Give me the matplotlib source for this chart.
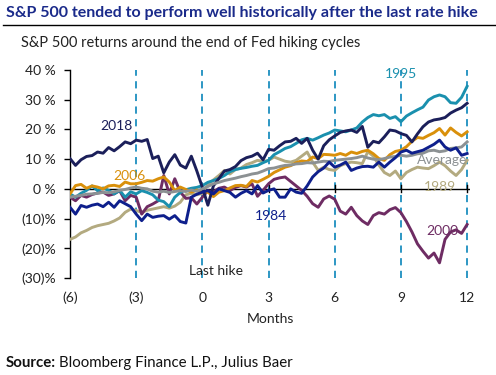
import numpy as np
import matplotlib
matplotlib.use("Agg")
import matplotlib.pyplot as plt
from matplotlib.lines import Line2D

plt.rcParams['font.family'] = ['Lato', 'DejaVu Sans']

months = np.arange(-6, 12.001, 0.25)

s2018 = [10.2, 7.9, 9.8, 10.9, 11.2, 12.4, 12.0, 13.9, 12.8, 14.2, 15.8, 15.2, 16.4, 16.0, 16.6, 10.2,
         11.0, 5.4, 9.0, 11.5, 8.0, 7.0, 11.0, 6.0, 0.5, -5.5, 1.0, 3.5, 6.0, 6.5, 7.5, 9.5, 10.5, 11.0,
         12.0, 9.8, 13.3, 13.0, 14.5, 15.8, 16.0, 17.0, 15.3, 17.0, 13.0, 10.0, 14.5, 16.5, 17.8, 19.0,
         19.5, 19.8, 19.0, 21.0, 14.0, 16.0, 15.5, 17.5, 19.8, 19.5, 18.6, 18.0, 15.8, 18.5, 20.9, 22.5,
         23.2, 23.5, 24.0, 25.5, 26.5, 27.3, 28.8]
s1995 = [-1.7, -2.8, -1.5, -0.5, 1.0, -0.6, 0.3, -0.5, -1.7, -0.5, -2.8, -1.0, -1.7, -0.6, -1.2, -2.0,
         -3.8, -4.3, -6.0, -2.8, -1.2, -0.3, 0.2, 0.5, 1.1, 2.2, 2.8, 3.5, 4.5, 5.8, 6.5, 6.9, 7.2, 7.6,
         7.9, 8.8, 9.6, 11.5, 12.5, 13.6, 14.2, 15.3, 16.5, 17.0, 16.4, 17.2, 18.1, 18.8, 19.8, 19.5,
         19.2, 19.8, 20.5, 22.5, 24.0, 25.0, 24.6, 25.0, 23.7, 24.3, 22.6, 24.5, 25.6, 26.6, 27.5, 29.9,
         31.0, 31.6, 31.0, 29.0, 28.8, 30.8, 34.5]
s2006 = [-1.7, 1.1, 1.5, 0.2, 1.0, 0.6, 0.0, 1.0, 1.2, 0.8, 2.3, 1.7, 1.7, 2.2, 2.8, 2.6, 3.4, 4.0,
         2.3, -0.6, 0.6, -0.2, -1.1, -0.4, -1.0, -1.1, -2.6, -1.1, -0.6, 0.3, 1.1, 1.2, 0.8, 2.8, 2.3,
         3.2, 4.2, 5.5, 6.4, 7.3, 7.8, 8.8, 9.4, 9.2, 10.7, 10.2, 11.6, 11.5, 11.3, 11.9, 11.3, 12.4,
         11.9, 12.6, 13.0, 11.8, 10.2, 9.6, 11.5, 12.6, 13.0, 14.2, 16.0, 17.3, 17.0, 18.0, 18.9, 20.3,
         18.1, 20.5, 19.0, 17.8, 19.2]
s1989 = [-17.0, -16.2, -14.8, -14.0, -13.0, -12.4, -12.0, -11.6, -10.8, -9.8, -7.9, -6.8, -7.3, -7.9,
         -7.2, -6.8, -6.4, -6.0, -6.5, -5.8, -4.5, -2.0, -1.5, -2.0, -1.5, 1.5, 3.0, 4.5, 6.2, 5.0, 6.5,
         7.0, 8.2, 8.8, 9.6, 9.2, 9.6, 10.7, 10.0, 9.3, 9.0, 9.6, 11.0, 12.4, 9.0, 6.2, 7.3, 6.5, 6.2,
         7.8, 8.5, 9.0, 8.8, 8.5, 12.5, 11.0, 8.0, 5.5, 4.5, 6.0, 3.4, 5.5, 6.5, 7.3, 7.0, 6.8, 7.8,
         9.0, 7.8, 6.0, 4.5, 6.5, 9.6]
s2000 = [-2.8, -4.0, -2.2, -2.8, -1.9, -1.4, -1.1, -2.2, -1.7, -0.6, -4.0, -2.2, -2.8, -8.5, -6.0,
         -5.1, -4.0, 4.5, -1.7, 3.4, -1.1, -3.2, -3.0, -5.1, -2.8, -0.6, -1.0, 0.2, 0.6, -0.6, 0.5, 1.1,
         0.6, 1.7, -2.5, -0.5, 1.7, 3.2, 3.7, 4.0, 2.5, 1.0, -0.5, -2.5, -5.0, -6.2, -3.4, -2.4, -3.5,
         -7.5, -8.5, -6.2, -9.0, -10.8, -12.0, -9.0, -8.0, -8.5, -7.0, -6.3, -8.0, -11.0, -14.5, -18.5,
         -21.0, -23.3, -21.6, -24.9, -17.0, -14.5, -13.8, -15.0, -12.0]
s1984 = [-6.2, -8.5, -5.6, -6.2, -5.5, -5.1, -6.0, -4.5, -6.2, -4.0, -5.0, -6.0, -8.5, -10.7, -8.5,
         -9.6, -9.2, -9.0, -10.2, -9.0, -11.0, -11.5, -2.8, -1.8, -1.1, -0.6, -1.7, 0.0, -0.6, -1.2,
         -2.8, -1.5, -0.6, -1.7, 1.1, -1.4, -0.5, 0.0, -2.8, -2.8, 0.0, -1.1, -1.5, 1.0, 4.0, 5.8, 7.0,
         9.0, 7.3, 8.0, 9.0, 6.2, 7.0, 7.5, 7.6, 7.3, 9.0, 7.3, 9.0, 10.5, 12.4, 13.0, 12.0, 12.5, 13.0,
         14.0, 15.0, 16.4, 14.1, 13.0, 13.8, 11.3, 11.9]
s_avg = [-2.8, -2.5, -2.2, -1.8, -1.7, -1.5, -1.2, -1.3, -1.0, -0.5, -0.2, 0.3, 0.6, 0.2, 0.0, -0.8,
         -1.1, -0.8, -1.2, -0.9, -0.6, -0.9, -0.4, -0.8, 0.0, 0.8, 1.7, 2.2, 2.8, 3.2, 3.6, 4.1, 4.5,
         5.0, 5.3, 6.0, 6.8, 7.0, 7.5, 7.9, 8.0, 8.4, 8.5, 8.8, 8.7, 9.0, 9.3, 9.2, 9.6, 9.8, 10.0, 10.2,
         10.5, 11.0, 10.4, 10.0, 9.8, 10.2, 10.7, 10.9, 11.3, 11.0, 11.3, 11.8, 12.0, 12.8, 13.0, 12.5,
         12.8, 13.6, 13.8, 14.1, 15.8]

series_names = ['1989', '2000', '1995', '2006', '2018', 'Average', '1984']
series_vals = [s1989, s2000, s1995, s2006, s2018, s_avg, s1984]
colors = {'1989': '#b3aa80', '2000': '#6e2c63', '1995': '#1a90ae', '2006': '#d9900b',
          '2018': '#1b1f5a', 'Average': '#8c9193', '1984': '#0e1f8c'}

x_ticks = [-6, -3, 0, 3, 6, 9, 12]
x_ticklabels = ['(6)', '(3)', '0', '3', '6', '9', '12']
y_ticks = [40, 30, 20, 10, 0, -10, -20, -30]
y_ticklabels = ['40 %', '30 %', '20 %', '10 %', '0 %', '(10)%', '(20)%', '(30)%']

W, H = 496, 375
fig = plt.figure(figsize=(W / 100, H / 100), dpi=100)
x0, x1 = 70, 470.4
y0, y1 = 70, 278
ax = fig.add_axes([x0 / W, 1 - y1 / H, (x1 - x0) / W, (y1 - y0) / H])
ax.set_xlim(-6, 12.15)
ax.set_ylim(-30, 40)

for xv in [-3, 0, 3, 6, 9, 12]:
    ax.plot([xv, xv], [-30, 40], color='#1d8fbf', lw=1.3, ls=(0, (4, 3)), zorder=1)

ax.axhline(0, color='black', lw=1.0, zorder=2)
for xv in [3, 6, 9, 12]:
    ax.plot([xv, xv], [-1.2, 1.2], color='black', lw=1.0, zorder=2)

for name, vals in zip(series_names, series_vals):
    ax.plot(months, vals, color=colors[name], lw=2.1, zorder=3, solid_joinstyle='round')

for sp in ['top', 'right', 'bottom']:
    ax.spines[sp].set_visible(False)
ax.spines['left'].set_linewidth(1.0)
ax.set_yticks(y_ticks)
ax.set_yticklabels(y_ticklabels, fontsize=10, color='#222222')
ax.tick_params(axis='y', length=4, width=1.0, pad=6)
ax.set_xticks(x_ticks)
ax.set_xticklabels(x_ticklabels, fontsize=10, color='#222222')
ax.tick_params(axis='x', length=0, pad=10)

labels = [('2018', -3.9, 21.0), ('2006', -3.3, 4.4), ('1995', 9.0, 38.5), ('Average', 10.85, 9.7),
          ('1989', 10.75, 0.6), ('1984', 3.1, -9.2), ('2000', 10.9, -14.2)]
for name, lx, ly in labels:
    ax.text(lx, ly, name, color=colors[name], fontsize=10, ha='center', va='center', zorder=4)
ax.text(0.64, -27.7, 'Last hike', color='#222222', fontsize=10, ha='center', va='center')
ax.set_xlabel('Months', fontsize=10, color='#222222', labelpad=6)

fig.text(6 / W, 1 - 12.5 / H, 'S&P 500 tended to perform well historically after the last rate hike',
         fontsize=11.5, fontweight='bold', color='#1a2a8a', ha='left', va='center')
fig.add_artist(Line2D([3 / W, 495 / W], [1 - 25 / H, 1 - 25 / H], color='black', lw=1.0))
fig.text(21 / W, 1 - 43.5 / H, 'S&P 500 returns around the end of Fed hiking cycles',
         fontsize=10.5, color='#222222', ha='left', va='center')
src = fig.text(6 / W, 1 - 363 / H, 'Source:', fontsize=10.8, fontweight='bold', color='#111111',
               ha='left', va='center')
fig.canvas.draw()
bb = src.get_window_extent()
fig.text((bb.x1 + 3) / W, 1 - 363 / H, 'Bloomberg Finance L.P., Julius Baer', fontsize=10.8,
         color='#111111', ha='left', va='center')

fig.savefig('out.png', dpi=100)
